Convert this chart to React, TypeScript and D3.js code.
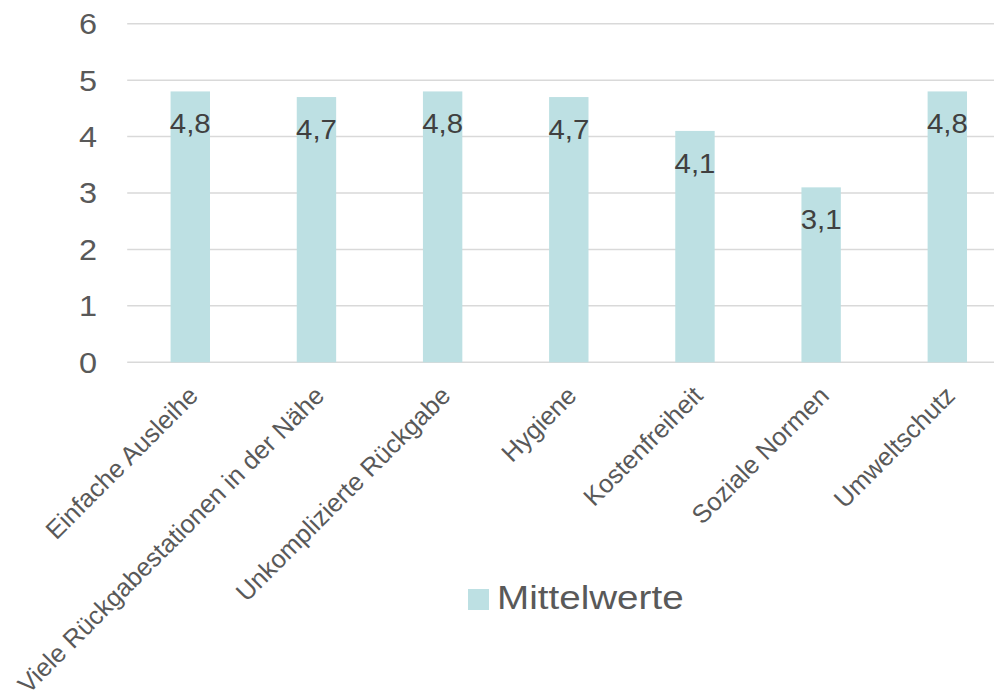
import React from "react";
import * as d3 from "d3";

const categories = [
  "Einfache Ausleihe",
  "Viele Rückgabestationen in der Nähe",
  "Unkomplizierte Rückgabe",
  "Hygiene",
  "Kostenfreiheit",
  "Soziale Normen",
  "Umweltschutz",
];
const values = [4.8, 4.7, 4.8, 4.7, 4.1, 3.1, 4.8];
const yTicks = [0, 1, 2, 3, 4, 5, 6];
const seriesName = "Mittelwerte";

const W = 994;
const H = 692;
const FONT = "'Liberation Sans', Arial, sans-serif";
const BAR = "#bde0e3";

export default function App() {
  const x = d3.scaleBand<string>().domain(categories).range([127.2, 1010.4]).paddingInner(0).paddingOuter(0);
  const y = d3.scaleLinear().domain([0, 6]).range([362.3, 23.7]);
  const bw = 39.4;
  const fmt = (v: number) => v.toFixed(1).replace(".", ",");
  return (
    <svg width={W} height={H} style={{ position: "absolute", left: 0, top: 0, background: "#fff" }} fontFamily={FONT}>
      <rect x={0} y={0} width={W} height={H} fill="#fff" />
      {yTicks.map((t) => (
        <g key={t}>
          <line x1={127.2} x2={W} y1={y(t)} y2={y(t)} stroke="#d9d9d9" strokeWidth={1.5} />
          <text
            transform={`translate(97,${y(t)}) scale(1.12,1)`}
            dy="0.36em"
            textAnchor="end"
            fontSize={29}
            fill="#595959"
          >
            {t}
          </text>
        </g>
      ))}
      {categories.map((c, i) => {
        const cx = (x(c) as number) + x.bandwidth() / 2;
        return (
          <g key={c}>
            <rect x={cx - bw / 2} y={y(values[i])} width={bw} height={y(0) - y(values[i])} fill={BAR} />
            <text
              transform={`translate(${cx},${y(values[i]) + 42}) scale(1.05,1)`}
              textAnchor="middle"
              fontSize={28}
              fill="#404040"
            >
              {fmt(values[i])}
            </text>
            <text
              transform={`translate(${cx + 3},391) rotate(-45)`}
              dy="0.35em"
              textAnchor="end"
              fontSize={25.5}
              fill="#595959"
            >
              {c}
            </text>
          </g>
        );
      })}
      <rect x={468} y={589} width={21} height={21} fill={BAR} />
      <text transform="translate(497,608.5) scale(1.17,1)" fontSize={33} fill="#595959">
        {seriesName}
      </text>
    </svg>
  );
}
